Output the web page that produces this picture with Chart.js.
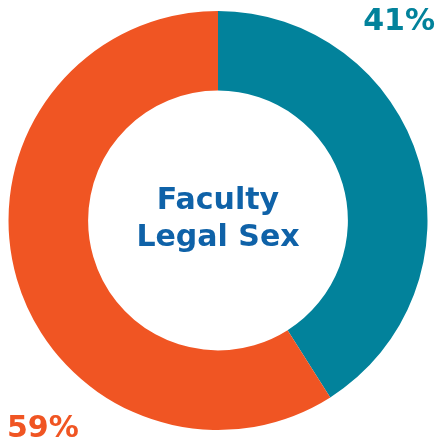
<!DOCTYPE html>
<html>
<head>
<meta charset="utf-8">
<script src="https://cdn.jsdelivr.net/npm/chart.js@4"></script>
<style>
  html, body { margin: 0; padding: 0; background: #fff; }
  #wrap { width: 437px; height: 447px; }
</style>
</head>
<body>
<div id="wrap"><canvas id="chart"></canvas></div>
<script>
// Faculty legal sex split
const categories = ['Male', 'Female'];
const shares = [41, 59];
const sliceColors = ['#02829b', '#f05523'];
const centerLines = ['Faculty', 'Legal Sex'];

const FONT = '"DejaVu Sans", "Open Sans", sans-serif';

// percent labels + centre title
const textPlugin = {
    id: 'donutText',
    afterDraw(chart) {
        const c = chart.ctx;
        const arc = chart.getDatasetMeta(0).data[0];
        const cx = arc.x, cy = arc.y;
        c.save();
        c.textAlign = 'center';
        c.textBaseline = 'middle';
        c.fillStyle = '#0f62a8';
        c.font = 'bold 30px ' + FONT;
        c.fillText(centerLines[0], cx, cy - 19);
        c.fillText(centerLines[1], cx, cy + 18);

        c.font = 'bold 30px ' + FONT;
        c.fillStyle = sliceColors[0];
        c.textAlign = 'right';
        c.fillText(shares[0] + '%', chart.width - 2, 22);
        c.fillStyle = sliceColors[1];
        c.textAlign = 'left';
        c.fillText(shares[1] + '%', 7, 429);
        c.restore();
    }
};

const ctx = document.getElementById('chart').getContext('2d');
const chart = new Chart(ctx, {
    type: 'doughnut',
    data: {
        labels: categories,
        datasets: [{
            data: shares,
            backgroundColor: sliceColors,
            borderWidth: 0,
        }],
    },
    options: {
        responsive: true,
        maintainAspectRatio: false,
        animation: false,
        cutout: '62%',
        layout: { padding: { left: 8, right: 9, top: 11, bottom: 17 } },
        events: [],
        plugins: {
            legend: { display: false },
            tooltip: { enabled: false },
        },
    },
    plugins: [textPlugin],
});
</script>
</body>
</html>
